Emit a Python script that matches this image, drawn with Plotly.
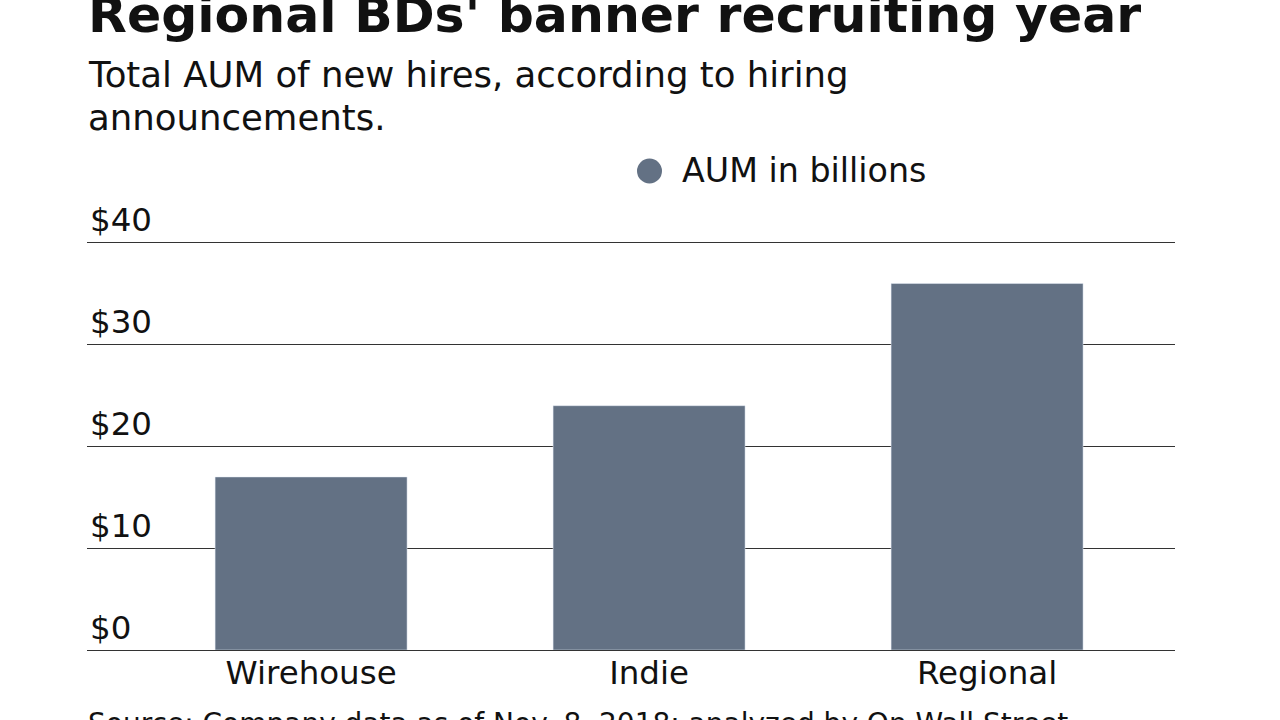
import plotly.graph_objects as go

categories = ["Wirehouse", "Indie", "Regional"]
aum_billions = [17, 24, 36]
y_tickvals = [0, 10, 20, 30, 40]
y_ticktext = ["$0", "$10", "$20", "$30", "$40"]

BAR = "#637184"
FONT = "'DejaVu Sans', sans-serif"
TXT = "#111"

PLOT_TOP, PLOT_BOTTOM, PLOT_LEFT, PLOT_RIGHT = 197, 650, 87, 1175
H = PLOT_BOTTOM - PLOT_TOP
W = PLOT_RIGHT - PLOT_LEFT


def py(p):
    return (PLOT_BOTTOM - p) / H


def px(p):
    return (p - PLOT_LEFT) / W


fig = go.Figure()
fig.add_trace(go.Bar(x=categories, y=aum_billions, marker_color=BAR, width=0.568,
                     showlegend=False, hoverinfo="skip"))

fig.update_layout(
    width=1280, height=720,
    margin=dict(l=PLOT_LEFT, r=1280 - PLOT_RIGHT, t=PLOT_TOP, b=720 - PLOT_BOTTOM),
    paper_bgcolor="white", plot_bgcolor="white",
    font=dict(family=FONT, color=TXT),
    showlegend=False,
    xaxis=dict(range=[-0.663, 2.556], showgrid=False, ticks="", showline=False,
               tickfont=dict(size=32.5, color=TXT)),
    yaxis=dict(range=[0, 44.5], tickvals=y_tickvals, ticktext=y_ticktext,
               ticklabelposition="inside top", showgrid=True, gridcolor="#333",
               gridwidth=1, zeroline=True, zerolinecolor="#333", zerolinewidth=1,
               tickfont=dict(size=32.5, color=TXT), showline=False, ticks=""),
    shapes=[
        dict(type="circle", xref="paper", yref="paper",
             x0=px(637), x1=px(662), y0=py(183.5), y1=py(158.5),
             fillcolor=BAR, line=dict(width=0)),
    ],
    annotations=[
        dict(text="<b>Regional BDs' banner recruiting year</b>", x=px(86), y=py(15),
             xref="paper", yref="paper", xanchor="left", yanchor="middle",
             showarrow=False, font=dict(size=50.5, color=TXT)),
        dict(text="Total AUM of new hires, according to hiring",
             x=px(86), y=py(75), xref="paper", yref="paper", xanchor="left", yanchor="middle",
             align="left", showarrow=False, font=dict(size=35.5, color=TXT)),
        dict(text="announcements.",
             x=px(86), y=py(117), xref="paper", yref="paper", xanchor="left", yanchor="middle",
             align="left", showarrow=False, font=dict(size=35.5, color=TXT)),
        dict(text="AUM in billions", x=px(680), y=py(171),
             xref="paper", yref="paper", xanchor="left", yanchor="middle",
             showarrow=False, font=dict(size=33.3, color=TXT)),
        dict(text="Source: Company data as of Nov. 8, 2018; analyzed by On Wall Street",
             x=px(86), y=py(723), xref="paper", yref="paper", xanchor="left", yanchor="middle",
             showarrow=False, font=dict(size=28, color=TXT)),
    ],
)

fig.write_html("out.html", config={"displayModeBar": False},
               post_script="document.body.style.margin='0';")
